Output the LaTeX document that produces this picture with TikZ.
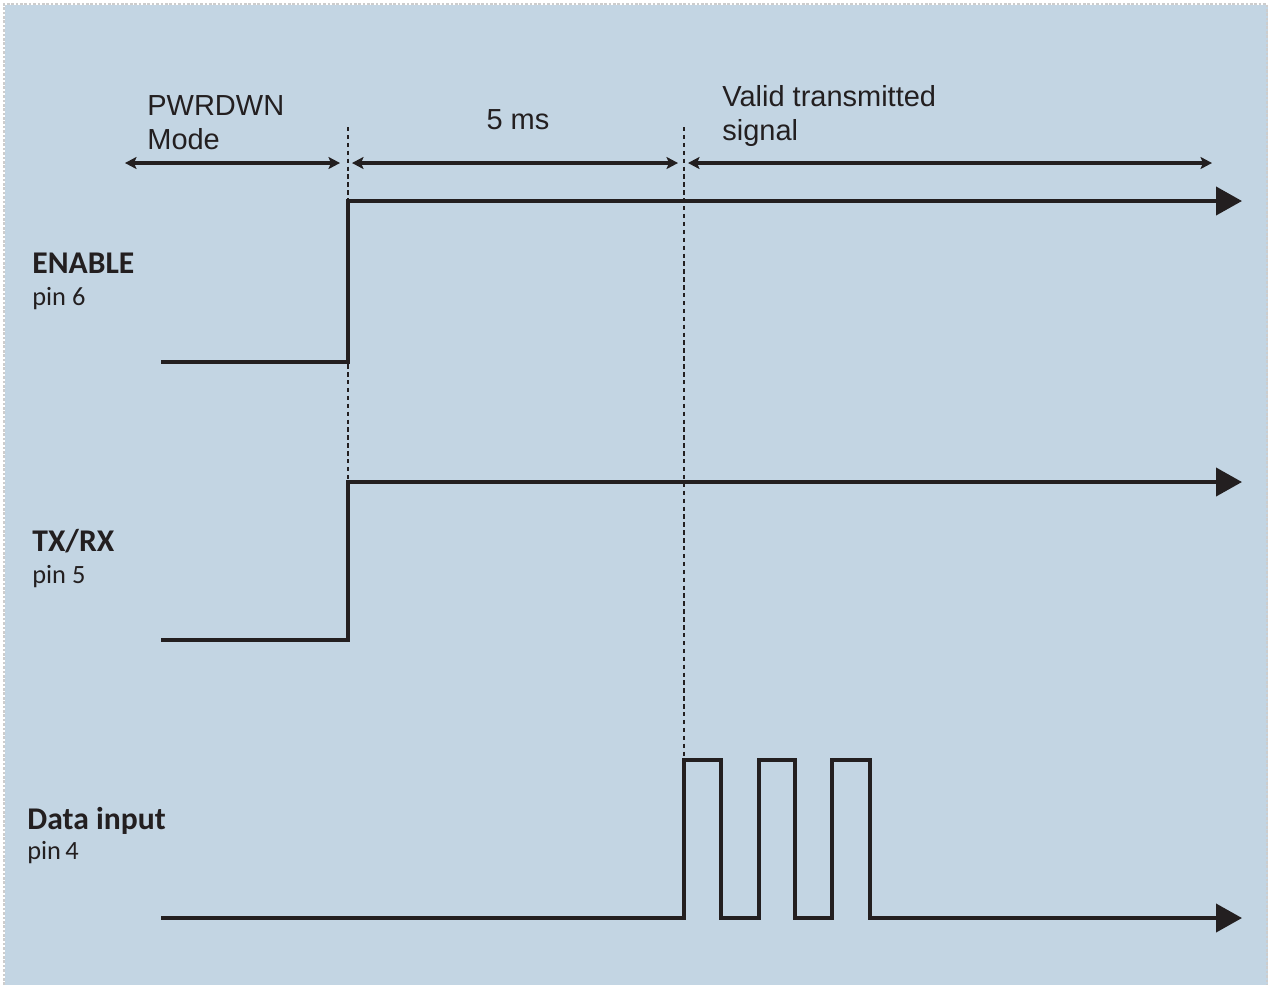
\documentclass[tikz,border=0pt]{standalone}
\usepackage{fontspec}
\setmainfont{Liberation Sans}
\newfontfamily\pinfont{Carlito}
\usetikzlibrary{positioning,arrows.meta}
\definecolor{panelblue}{RGB}{195,213,227}
\definecolor{traceblack}{RGB}{35,31,32}
\definecolor{framegrey}{RGB}{205,205,205}

\begin{document}
\begin{tikzpicture}[x=0.02cm,y=-0.02cm,
    signal/.style={traceblack,line width=2.3pt,line join=miter,
      -{Triangle[length=5.2mm,width=5.6mm]}},
    span/.style={traceblack,line width=1.8pt,
      {Stealth[length=2.3mm,width=2.4mm,inset=0.5mm]}-{Stealth[length=2.3mm,width=2.4mm,inset=0.5mm]}},
    marker/.style={traceblack,line width=0.6pt,dash pattern=on 2.5pt off 2pt},
    toplbl/.style={inner sep=0pt,align=left,font=\fontsize{16.5}{19.3}\selectfont,text=traceblack},
    namelbl/.style={inner sep=0pt,anchor=base west,font=\pinfont\bfseries\fontsize{18}{20}\selectfont,text=traceblack},
    pinlbl/.style={inner sep=0pt,anchor=base west,font=\pinfont\fontsize{15}{17}\selectfont,text=traceblack}]
  % page and panel
  \useasboundingbox (0,0) rectangle (1270,985);
  \fill[panelblue] (5,5) rectangle (1268,985);
  \draw[framegrey,line width=0.6pt,dash pattern=on 1.5pt off 1pt] (4,985) -- (4,4) -- (1267,4) -- (1267,985);
  % time marks
  \coordinate (tpd) at (348,127);
  \coordinate (tvalid) at (684,127);
  \draw[marker] (tpd) -- (348,482);
  \draw[marker] (tvalid) -- (684,760);
  % interval labels and spans
  \node[toplbl,anchor=north west] (pwrdwn) at (147,95) {PWRDWN\\Mode};
  \node[toplbl,anchor=base] (wait) at (518,129) {5 ms};
  \node[toplbl,anchor=north west] (valid) at (722,85) {Valid transmitted\\signal};
  \draw[span] (125,163) -- (340,163);
  \draw[span] (352,163) -- (678,163);
  \draw[span] (688,163) -- (1212,163);
  % rows: name / pin / label baseline / low level / high level
  \foreach \name/\pin/\base/\lo/\hi/\i in {
    ENABLE/pin 6/273/362/201/1,
    {TX/RX}/pin 5/551/640/482/2} {
    \node[namelbl] (name\i) at (32,\base) {\name};
    \node[pinlbl] (pin\i) at (32,\base+32) {\pin};
    \draw[signal] (161,\lo) -- (348,\lo) -- (348,\hi) -- (1242,\hi);
  }
  % data input with three pulses
  \node[namelbl] (name3) at (27,829) {Data input};
  \node[pinlbl] (pin3) at (27,859) {pin\,4};
  \draw[signal] (161,918) -- (684,918) -- (684,760) -- (721,760) -- (721,918)
    -- (759,918) -- (759,760) -- (795,760) -- (795,918)
    -- (832,918) -- (832,760) -- (870,760) -- (870,918) -- (1242,918);
\end{tikzpicture}
\end{document}
